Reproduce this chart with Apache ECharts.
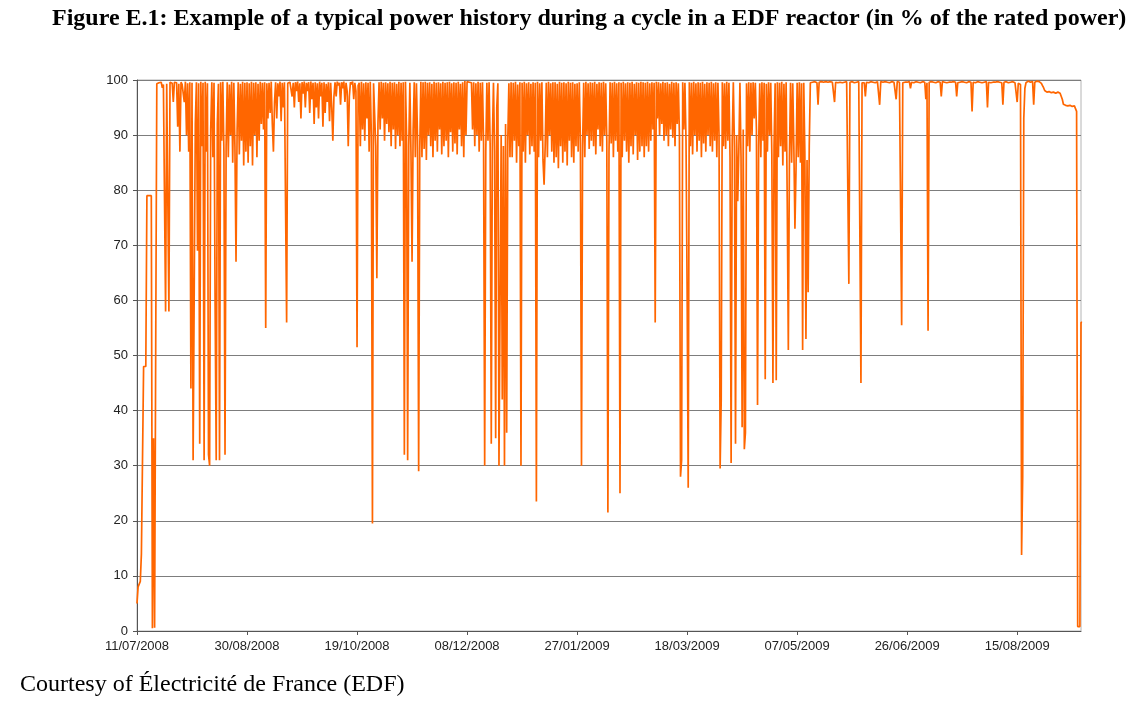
<!DOCTYPE html>
<html>
<head>
<meta charset="utf-8">
<script src="https://cdn.jsdelivr.net/npm/echarts@6/dist/echarts.min.js"></script>
<style>
  html, body { margin: 0; padding: 0; background: #fff; }
  #chart { width: 1138px; height: 706px; }
</style>
</head>
<body>
<div id="chart"></div>
<script>
// power in % of rated power, two readings per day from 11/07/2008:
// dayHigh at the start of the day, dayLow half a day later
const startDate = Date.UTC(2008, 6, 11)
const lastDay = 429
const yTicks = [0, 10, 20, 30, 40, 50, 60, 70, 80, 90, 100]
const dayHigh = [
  5, 8.5, 14, 48, 48, 79, 79, 0.5, 0.6, 99.3,
  99.5, 99.6, 99.2, 58, 99.5, 99.6, 99.4, 99.6, 99.5, 99.3,
  99.6, 99.5, 99.7, 99.4, 99.6, 99.5, 31, 99.6, 99.4, 99.7,
  99.5, 99.7, 99.4, 30, 99.6, 99.5, 31, 99.3, 99.6, 99.7,
  32, 99.6, 99.2, 99.7, 99.5, 67, 99.6, 99.3, 99.7, 99.5,
  99.6, 99.4, 99.7, 99.5, 99.6, 99.3, 99.7, 99.5, 99.6, 99.4,
  99.5, 99.7, 87, 99.6, 99.4, 99.7, 99.5, 99.6, 56, 99.5,
  99.7, 99.5, 99.6, 99.7, 99.4, 99.6, 99.7, 99.5, 99.6, 99.7,
  99.5, 99.6, 99.4, 99.7, 99.5, 99.6, 99.3, 99.6, 99.5, 89,
  99.6, 99.7, 99.5, 99.6, 99.7, 99.5, 88, 99.6, 99.7, 99.5,
  51.5, 99.5, 99.7, 99.4, 99.6, 99.5, 99.7, 19.5, 99.6, 64,
  99.6, 99.7, 99.5, 99.6, 99.4, 99.7, 99.5, 99.6, 99.3, 99.7,
  99.5, 99.6, 99.7, 31, 99.5, 67, 99.6, 99.4, 29, 99.7,
  99.6, 99.7, 99.5, 99.6, 99.3, 99.7, 99.5, 99.6, 99.4, 99.7,
  99.5, 99.6, 99.7, 99.4, 99.6, 99.5, 99.7, 99.3, 99.6, 99.8,
  99.7, 99.6, 99.5, 99.6, 99.4, 99.7, 99.5, 99.6, 30, 99.5,
  99.6, 34, 99.5, 35, 99.4, 30, 42, 30, 36, 99.4,
  99.6, 99.5, 99.7, 99.2, 99.6, 99.5, 99.7, 99.4, 99.6, 99.3,
  99.6, 99.5, 99.7, 99.4, 99.6, 81, 99.5, 99.7, 99.4, 99.6,
  99.6, 99.3, 99.7, 99.5, 99.6, 99.4, 99.7, 99.5, 99.6, 99.3,
  99.4, 99.6, 30, 99.5, 99.7, 99.4, 99.6, 99.5, 99.7, 99.3,
  99.6, 99.5, 99.7, 99.4, 21.5, 99.6, 99.5, 99.7, 99.4, 99.6,
  99.5, 99.7, 99.4, 99.6, 99.5, 99.7, 99.3, 99.6, 99.5, 99.7,
  99.6, 99.5, 99.7, 99.4, 99.6, 99.5, 99.7, 99.6, 99.4, 99.7,
  99.5, 99.6, 99.3, 99.7, 99.5, 99.6, 99.4, 28, 99.6, 99.5,
  62, 99.6, 99.5, 99.7, 99.4, 99.6, 99.5, 99.7, 99.3, 99.6,
  99.5, 99.7, 99.4, 99.6, 99.5, 29.5, 99.6, 99.4, 99.7, 99.5,
  30.5, 99.6, 34, 78, 99.5, 37, 33, 99.4, 99.6, 99.5,
  99.6, 99.5, 41, 99.4, 99.6, 99.5, 99.3, 99.6, 99.5, 45,
  99.4, 99.6, 99.5, 99.7, 99.3, 99.6, 51, 99.5, 99.4, 73,
  99.5, 99.6, 99.4, 99.5, 53, 61.5, 99.5, 99.6, 99.7, 99.5,
  99.6, 99.7, 99.6, 99.7, 99.6, 99.7, 99.6, 96, 99.6, 99.7,
  99.6, 99.7, 99.6, 99.5, 99.6, 99.7, 99.5, 99.6, 99.7, 45,
  99.6, 97, 99.7, 99.5, 99.6, 99.7, 99.6, 99.5, 99.7, 99.6,
  99.7, 99.6, 99.5, 99.7, 99.6, 96.5, 99.7, 99.6, 99.5, 99.6,
  99.6, 99.7, 99.6, 99.5, 99.7, 99.6, 99.5, 99.7, 99.6, 99.5,
  99.6, 99.7, 99.6, 99.5, 99.7, 99.6, 99.7, 99.6, 99.5, 99.6,
  99.6, 99.7, 99.6, 99.5, 99.6, 99.7, 99.6, 99.5, 99.7, 99.6,
  99.6, 99.5, 99.7, 99.6, 99.5, 99.6, 99.7, 99.6, 99.5, 99.6,
  99.6, 99.7, 99.6, 99.5, 99.6, 99.7, 99.5, 99.6, 99.7, 99.5,
  96, 99.3, 13.8, 93, 99.5, 99.8, 99.6, 99.7, 99.6, 99.8,
  99.7, 99.4, 98.6, 97.9, 97.8, 97.9, 97.7, 97.8, 97.9, 97.7,
  97.6, 95.6, 95.4, 95.3, 95.4, 95.2, 95.3, 94.3, 0.8, 56
]
const dayLow = [
  8, 9, 14, 48, 79, 79, 79, 35, 51, 99.5,
  99.4, 98.6, 99.5, 99.3, 58, 99.4, 96, 99.5, 91.5, 87,
  99.2, 96, 90, 87, 44, 31, 92, 69, 34, 88,
  31, 87, 32, 91, 86, 59, 92, 31, 89, 87,
  88, 86, 90, 85, 88, 91, 86.5, 89, 84.5, 87,
  85, 88, 84.5, 90, 86, 89, 92, 91, 55, 93,
  94, 92, 96, 93, 97, 92.5, 95, 99.5, 99.4, 99.6,
  97, 95, 98, 96, 93, 97.5, 95, 98, 94, 96.5,
  92, 95, 93, 97, 91.5, 94, 96, 92.5, 95, 97,
  97, 99, 95.5, 98.5, 96, 98, 97, 99.2, 96.5, 98,
  99, 88, 91, 89, 93, 87, 90, 99.4, 88, 92,
  91, 93, 89, 92, 90.5, 88, 91, 87.5, 90, 88,
  89, 32, 90, 88, 87, 91, 86, 89, 87.5, 86,
  87.5, 85.5, 90, 88, 86, 89, 87, 91, 86.5, 88,
  89, 86, 90.5, 87, 88.5, 86.5, 91, 88, 86, 90,
  99.6, 99.5, 91, 88, 90, 87, 89, 88.5, 87, 89,
  88, 89, 87, 95, 30, 90, 88, 92, 89, 86,
  86, 89, 85, 88, 30, 87, 85, 90, 86.5, 88,
  87, 23.5, 86, 89, 85.5, 88, 86, 90, 87, 85,
  86, 84, 88, 85, 87, 84.5, 89, 86, 85, 88,
  87, 89, 88, 86, 90, 87.5, 89, 88, 86.5, 91,
  88, 87, 90, 89, 87, 88.5, 86, 89, 87, 25,
  86, 89, 87, 85, 88, 86.5, 90, 85.5, 87, 88,
  86, 88, 87, 89, 91, 56, 93, 90, 92, 89,
  90, 88, 91, 89.5, 88, 92, 90, 31, 91, 89,
  26, 88, 86.5, 90, 87, 89, 86, 88.5, 87, 90,
  88, 87, 89, 86, 90, 42, 88, 87.5, 89, 86,
  89, 88, 90, 87, 86, 91, 36, 88, 87, 90,
  93, 91, 88, 86, 89, 45.7, 87, 90, 86.5, 88,
  45.5, 86, 88, 84.5, 87, 78, 86, 85, 88, 84,
  86, 85, 51, 87, 85.5, 88, 99.4, 99.6, 99.5, 95.5,
  99.5, 99.6, 99.5, 99.6, 99.7, 99.5, 99.6, 99.6, 99.5, 99.6,
  99.5, 99.6, 99.7, 63, 99.5, 99.6, 99.7, 99.5, 99.6, 99.5,
  99.5, 99.6, 99.5, 99.7, 99.6, 99.5, 99.7, 95.5, 99.6, 99.5,
  99.6, 99.5, 99.7, 99.6, 99.5, 99.7, 99.6, 55.5, 99.7, 99.5,
  99.7, 98.5, 99.5, 99.6, 99.7, 99.5, 99.6, 99.7, 96.5, 54.5,
  99.7, 99.5, 99.6, 99.7, 99.6, 97, 99.5, 99.6, 99.7, 99.5,
  99.5, 99.6, 97, 99.7, 99.6, 99.5, 99.7, 99.6, 99.5, 94.3,
  99.7, 99.6, 99.5, 99.7, 99.6, 99.5, 95, 99.7, 99.6, 99.5,
  99.5, 99.6, 99.7, 95.5, 99.5, 99.6, 99.7, 99.5, 99.6, 99.4,
  99.4, 99.2, 28, 98.5, 99.7, 99.6, 99.8, 95.5, 99.7, 99.6,
  99.6, 99, 98.1, 97.8, 97.9, 97.7, 97.8, 97.6, 97.8, 97.6,
  96.5, 95.5, 95.3, 95.4, 95.2, 95.3, 94.8, 0.8, 0.8, 56
]

const pad = n => (n < 10 ? '0' : '') + n
const dayLabel = d => {
  const t = new Date(startDate + d * 86400000)
  return pad(t.getUTCDate()) + '/' + pad(t.getUTCMonth() + 1) + '/' + t.getUTCFullYear()
}

// [day, power] pairs, two per day
const points = []
dayHigh.forEach((v, i) => {
  points.push([i, v])
  points.push([i + 0.5, dayLow[i]])
})

const chart = echarts.init(document.getElementById('chart'), null, { renderer: 'canvas' })

chart.setOption({
  animation: false,
  backgroundColor: '#fff',
  grid: {
    left: 137, right: 57, top: 80, bottom: 75,
    show: true, borderColor: '#b4b4b4', borderWidth: 1
  },
  graphic: [
    {
      type: 'text', left: 52, top: 7,
      style: {
        text: 'Figure E.1: Example of a typical power history during a cycle in a EDF reactor (in % of the rated power)',
        font: 'bold 24px "Liberation Serif", "Times New Roman", serif',
        fill: '#000'
      }
    },
    {
      type: 'text', left: 20, top: 673,
      style: {
        text: 'Courtesy of Électricité de France (EDF)',
        font: '24px "Liberation Serif", "Times New Roman", serif',
        fill: '#000'
      }
    }
  ],
  xAxis: {
    type: 'value',
    min: 0, max: lastDay, interval: 50,
    axisLine: { lineStyle: { color: '#555', width: 1 } },
    axisTick: { show: true, length: 4, lineStyle: { color: '#555' } },
    axisLabel: {
      margin: 9,
      showMaxLabel: false,
      fontFamily: '"Liberation Sans", Arial, sans-serif',
      fontSize: 13, color: '#222',
      formatter: v => (v > 420 ? '' : dayLabel(v))
    },
    splitLine: { show: false }
  },
  yAxis: {
    type: 'value',
    min: yTicks[0], max: yTicks[yTicks.length - 1], interval: 10,
    axisLine: { show: true, lineStyle: { color: '#555', width: 1 } },
    axisTick: { show: true, length: 4, lineStyle: { color: '#555' } },
    axisLabel: {
      margin: 9,
      fontFamily: '"Liberation Sans", Arial, sans-serif',
      fontSize: 13, color: '#222'
    },
    splitLine: { show: true, lineStyle: { color: '#7d7d7d', width: 1 } }
  },
  series: [{
    type: 'line',
    data: points,
    showSymbol: false,
    clip: true,
    lineStyle: { color: '#ff6600', width: 1.7 },
    itemStyle: { color: '#ff6600' }
  }]
})
window.addEventListener('resize', () => { chart.resize() })
</script>
</body>
</html>
